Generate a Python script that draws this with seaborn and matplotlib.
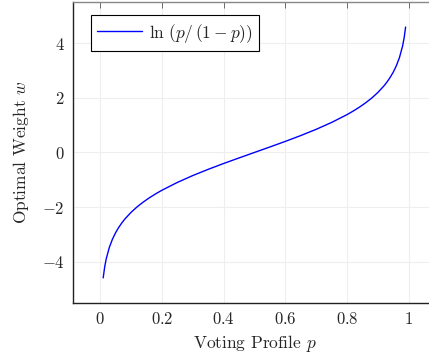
import matplotlib
matplotlib.use("Agg")
import matplotlib.pyplot as plt
import seaborn as sns
import pandas as pd

# Data
p_values = [0.01, 0.015, 0.02, 0.03, 0.04, 0.05, 0.06, 0.07, 0.08, 0.10, 0.12, 0.14, 0.16,
            0.18, 0.20, 0.25, 0.30, 0.35, 0.40, 0.45, 0.50, 0.55, 0.60, 0.65, 0.70, 0.75,
            0.80, 0.82, 0.84, 0.86, 0.88, 0.90, 0.92, 0.93, 0.94, 0.95, 0.96, 0.97, 0.98,
            0.985, 0.99]
w_values = [-4.595, -4.185, -3.892, -3.476, -3.178, -2.944, -2.752, -2.587, -2.442, -2.197,
            -1.992, -1.815, -1.658, -1.516, -1.386, -1.099, -0.847, -0.619, -0.405, -0.201,
            0.0, 0.201, 0.405, 0.619, 0.847, 1.099, 1.386, 1.516, 1.658, 1.815, 1.992,
            2.197, 2.442, 2.587, 2.752, 2.944, 3.178, 3.476, 3.892, 4.185, 4.595]
x_ticks = [0, 0.2, 0.4, 0.6, 0.8, 1]
x_tick_labels = ["0", "0.2", "0.4", "0.6", "0.8", "1"]
y_ticks = [-4, -2, 0, 2, 4]
y_tick_labels = ["-4", "-2", "0", "2", "4"]
series_label = r"$\ln\,(p/\,(1-p))$"
x_label = "Voting Profile $p$"
y_label = "Optimal Weight $w$"

sns.set_style("white")
plt.rcParams["font.family"] = ["cmr10", "DejaVu Serif"]
plt.rcParams["mathtext.fontset"] = "cm"
plt.rcParams["axes.unicode_minus"] = False
plt.rcParams["axes.formatter.use_mathtext"] = True

df = pd.DataFrame({"p": p_values, "w": w_values})

fig = plt.figure(figsize=(4.29, 3.55), dpi=100)
ax = fig.add_axes([0.170, 0.1465, 0.846, 0.848])

sns.lineplot(data=df, x="p", y="w", ax=ax, color="#0000ff", linewidth=1.0,
             label=series_label, sort=False)

xmin, xmax = -0.088, 1.088
ymin, ymax = -5.514, 5.514
ax.set_xlim(xmin, xmax)
ax.set_ylim(ymin, ymax)

ax.set_xticks(x_ticks)
ax.set_xticklabels(["$" + t + "$" for t in x_tick_labels])
ax.set_yticks(y_ticks)
ax.set_yticklabels(["$" + t + "$" for t in y_tick_labels])

ax.grid(True, color="#eeeeee", linewidth=0.8)
ax.set_axisbelow(True)
ax.tick_params(axis="both", direction="in", length=4, width=0.6, color="#555555",
               labelsize=12, top=True, right=True, pad=6)

for side in ["left", "bottom"]:
    ax.spines[side].set_color("#222222")
    ax.spines[side].set_linewidth(1.0)
for side in ["top", "right"]:
    ax.spines[side].set_color("#888888")
    ax.spines[side].set_linewidth(1.0)

ax.set_xlabel(x_label, fontsize=12.5, labelpad=4)
ax.set_ylabel(y_label, fontsize=12.5, labelpad=8)

leg = ax.legend(loc="upper left", bbox_to_anchor=(0.05, 0.955), fontsize=12.5,
                frameon=True, fancybox=False, edgecolor="black", framealpha=1,
                handlelength=2.6, handletextpad=0.4, borderpad=0.35, borderaxespad=0)
leg.get_frame().set_linewidth(0.8)

fig.savefig("out.png", dpi=100)
